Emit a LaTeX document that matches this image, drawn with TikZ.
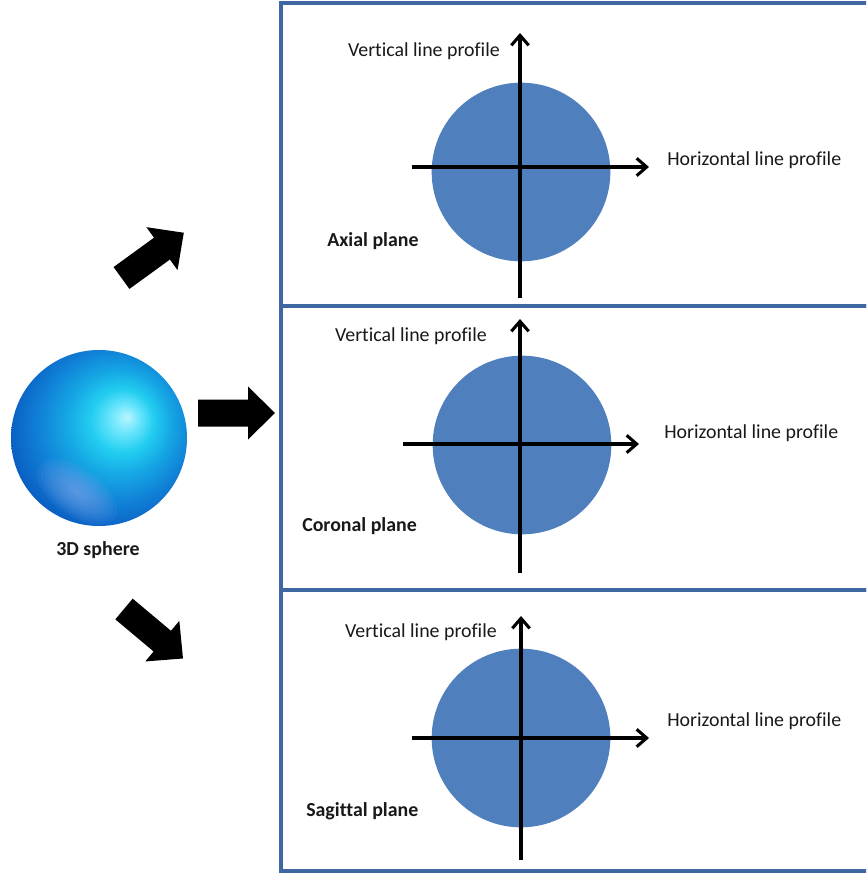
\documentclass[tikz,border=0pt]{standalone}
\usepackage{fontspec}
\setmainfont[Ligatures={NoCommon}]{Carlito}
\usetikzlibrary{arrows.meta}

\definecolor{framecol}{HTML}{3E67A3}
\definecolor{diskcol}{HTML}{4F7FBD}
\definecolor{glowcol}{HTML}{9AAEF0}
\definecolor{ballA}{HTML}{B8F4FF}
\definecolor{ballB}{HTML}{6CE6FC}
\definecolor{ballC}{HTML}{22CDF0}
\definecolor{ballD}{HTML}{15A6E4}
\definecolor{ballE}{HTML}{1080D6}
\definecolor{ballF}{HTML}{0A5FC3}
\definecolor{ballG}{HTML}{0848AA}

% lit blue ball, highlight towards the upper right
\pgfdeclareradialshading{spherelit}{\pgfpoint{8bp}{6bp}}{%
  color(0bp)=(ballA);
  color(4bp)=(ballB);
  color(9bp)=(ballC);
  color(15bp)=(ballD);
  color(22bp)=(ballE);
  color(29bp)=(ballF);
  color(35bp)=(ballG);
  color(50bp)=(ballG)}

\tikzset{
  lbl/.style={inner sep=0pt, text=black!90, font=\fontsize{14.9}{18}\selectfont},
  plane/.style={lbl, font=\fontsize{14.9}{18}\selectfont\bfseries},
  panel/.style={draw=framecol, line width=2.6pt, rectangle, inner sep=0pt},
  disk/.style={circle, fill=diskcol, inner sep=0pt, minimum size=134pt},
  axis/.style={line width=2.3pt, black, -{Straight Barb[length=7.5pt,width=13pt,line width=2.3pt]}},
  blockarrow/.pic={\fill[black] (0,-13.5) -- (50,-13.5) -- (50,-26.5) -- (77,0)
      -- (50,26.5) -- (50,13.5) -- (0,13.5) -- cycle;}
}

\begin{document}
\begin{tikzpicture}[x=0.75pt,y=-0.75pt]
\clip (0,0) rectangle (866,873);
\fill[white] (0,0) rectangle (866,873);

% the three section panels (open to the right)
\draw[panel] (281,3) rectangle (910,306);
\draw[panel] (281,306) rectangle (910,590);
\draw[panel] (281,590) rectangle (910,871);

% the sphere
\node[circle, inner sep=0pt, minimum size=132pt, shade, shading=spherelit] (sphere) at (99,438) {};
% soft reflected light near the lower left rim, built from stacked faint ellipses
\begin{scope}
  \clip (99,438) circle [radius=87];
  \foreach \k in {1,...,10}{
    \fill[glowcol, opacity=0.075, rotate around={-35:(77,492)}]
      (77,492) ellipse [x radius=4.6*\k, y radius=2.4*\k];
  }
\end{scope}
\node[plane] (spherelbl) at (98,550) {3D sphere};

% block arrows from the sphere to the sections
\pic (toaxial) [rotate=36] at (121.5,278) {blockarrow};
\pic (tocoronal) at (198,413) {blockarrow};
\pic (tosagittal) [rotate=-40] at (124,609) {blockarrow};

% axial plane
\node[disk] (d1) at (521,172) {};
\coordinate (v1a) at (520,298); \coordinate (v1b) at (520,33);
\coordinate (h1a) at (412,167); \coordinate (h1b) at (649,167);
\draw[axis] (v1a) -- (v1b);
\draw[axis] (h1a) -- (h1b);
\node[lbl, anchor=east] (vl1) at (500,51) {Vertical line profile};
\node[lbl, anchor=west] (hl1) at (667,160) {Horizontal line profile};
\node[plane, anchor=west] (ax) at (327,241) {Axial plane};

% coronal plane
\node[disk] (d2) at (522,445) {};
\coordinate (v2a) at (520,573); \coordinate (v2b) at (520,319);
\coordinate (h2a) at (403,444); \coordinate (h2b) at (639,444);
\draw[axis] (v2a) -- (v2b);
\draw[axis] (h2a) -- (h2b);
\node[lbl, anchor=east] (vl2) at (487,336) {Vertical line profile};
\node[lbl, anchor=west] (hl2) at (664,433) {Horizontal line profile};
\node[plane, anchor=west] (co) at (302,526) {Coronal plane};

% sagittal plane
\node[disk] (d3) at (521,738) {};
\coordinate (v3a) at (521,860); \coordinate (v3b) at (521,616);
\coordinate (h3a) at (412,738); \coordinate (h3b) at (649,738);
\draw[axis] (v3a) -- (v3b);
\draw[axis] (h3a) -- (h3b);
\node[lbl, anchor=east] (vl3) at (497,632) {Vertical line profile};
\node[lbl, anchor=west] (hl3) at (667,721) {Horizontal line profile};
\node[plane, anchor=west] (sa) at (306,811) {Sagittal plane};
\end{tikzpicture}
\end{document}
